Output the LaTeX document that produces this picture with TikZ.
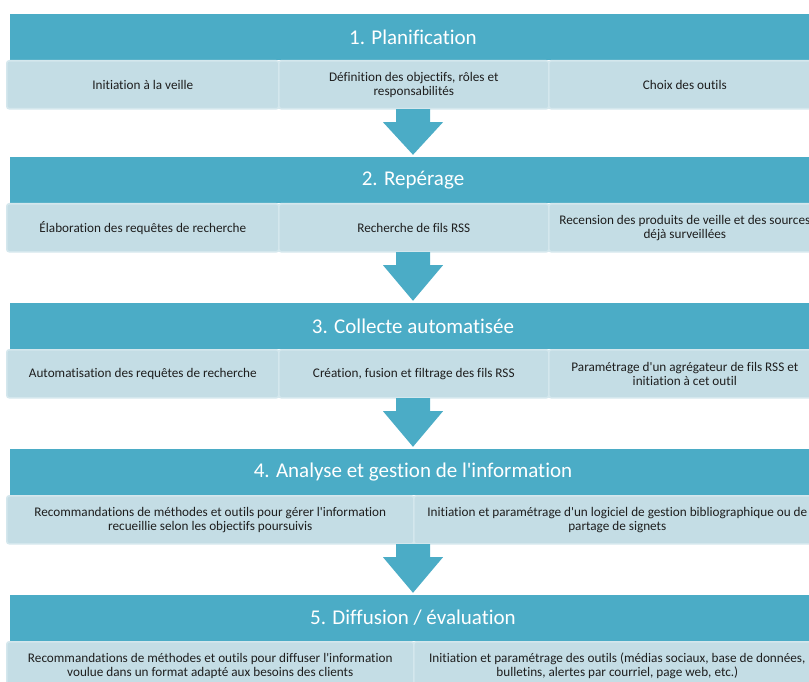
\documentclass[tikz,border=0pt]{standalone}
\usepackage{fontspec}
\setmainfont{Carlito}[Ligatures={TeXOff,NoCommon}]
\usetikzlibrary{calc}
\definecolor{teal}{HTML}{4BACC6}
\definecolor{subfill}{HTML}{C4DDE5}
\definecolor{subline}{HTML}{D4E7ED}
\definecolor{subtxt}{HTML}{1E1E1E}
\tikzset{
  header/.style={rectangle, fill=teal, minimum width=806pt, minimum height=46pt,
    inner sep=0pt, text=white, font=\fontsize{21}{25}\selectfont},
  subbox/.style={rectangle, rounded corners=2.5pt, fill=subfill, draw=subline, line width=1.6pt,
    minimum height=48pt, inner sep=0pt, align=center, text=subtxt,
    font=\fontsize{13.2}{13.6}\selectfont},
  arrowshape/.style={fill=teal},
}
\newcommand{\blockarrow}[2]{%
  \fill[arrowshape] ($(#1.south)+(-17,49)$) -- ($(#1.south)+(17,49)$) -- ($(#1.south)+(17,62)$)
    -- ($(#1.south)+(30,62)$) -- ($(#2.north)+(0,-2)$) -- ($(#1.south)+(-30,62)$)
    -- ($(#1.south)+(-17,62)$) -- cycle;}
\begin{document}
\begin{tikzpicture}[x=1pt,y=-1pt]
\useasboundingbox (0,0) rectangle (809,682);
\clip (0,0) rectangle (809,682);
% headers
\node[header] (h1) at (413,37) {1. Planification};
\node[header] (h2) at (413,180) {2. Repérage};
\node[header] (h3) at (413,326) {3. Collecte automatisée};
\node[header] (h4) at (413,472) {4. Analyse et gestion de l'information};
\node[header] (h5) at (413,618) {5. Diffusion / évaluation};
% block 1
\node[subbox, minimum width=272pt, anchor=north west] (s1a) at (6,60) {Initiation à la veille};
\node[subbox, minimum width=270pt, anchor=north west] (s1b) at (278,60) {Définition des objectifs, rôles et\\responsabilités};
\node[subbox, minimum width=272pt, anchor=north west] (s1c) at (548,60) {Choix des outils};
% block 2
\node[subbox, minimum width=272pt, anchor=north west] (s2a) at (6,203) {Élaboration des requêtes de recherche};
\node[subbox, minimum width=270pt, anchor=north west] (s2b) at (278,203) {Recherche de fils RSS};
\node[subbox, minimum width=272pt, anchor=north west] (s2c) at (548,203) {Recension des produits de veille et des sources\\déjà surveillées};
% block 3
\node[subbox, minimum width=272pt, anchor=north west] (s3a) at (6,349) {Automatisation des requêtes de recherche};
\node[subbox, minimum width=270pt, anchor=north west] (s3b) at (278,349) {Création, fusion et filtrage des fils RSS};
\node[subbox, minimum width=272pt, anchor=north west] (s3c) at (548,349) {Paramétrage d'un agrégateur de fils RSS et\\initiation à cet outil};
% block 4
\node[subbox, minimum width=407pt, anchor=north west] (s4a) at (6,495) {Recommandations de méthodes et outils pour gérer l'information\\recueillie selon les objectifs poursuivis};
\node[subbox, minimum width=407pt, anchor=north west] (s4b) at (413,495) {Initiation et paramétrage d'un logiciel de gestion bibliographique ou de\\partage de signets};
% block 5
\node[subbox, minimum width=407pt, anchor=north west] (s5a) at (6,641) {Recommandations de méthodes et outils pour diffuser l'information\\voulue dans un format adapté aux besoins des clients};
\node[subbox, minimum width=407pt, anchor=north west] (s5b) at (413,641) {Initiation et paramétrage des outils (médias sociaux, base de données,\\bulletins, alertes par courriel, page web, etc.)};
% arrows
\blockarrow{h1}{h2}
\blockarrow{h2}{h3}
\blockarrow{h3}{h4}
\blockarrow{h4}{h5}
\end{tikzpicture}
\end{document}
